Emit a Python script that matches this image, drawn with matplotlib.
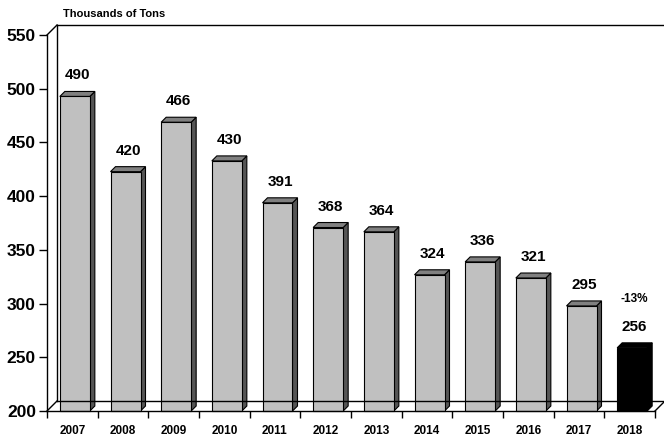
import numpy as np
import matplotlib.pyplot as plt
from matplotlib.patches import Polygon

# Data
years = ['2007', '2008', '2009', '2010', '2011', '2012',
         '2013', '2014', '2015', '2016', '2017', '2018']
tons = [490, 420, 466, 430, 391, 368, 364, 324, 336, 321, 295, 256]
change_label = '-13%'
y_ticks = [200, 250, 300, 350, 400, 450, 500, 550]

plt.rcParams['font.family'] = ['Liberation Sans', 'DejaVu Sans']

fig = plt.figure(figsize=(6.64, 4.38), dpi=100)
ax = fig.add_axes([47 / 664, 27 / 438, 608 / 664, 376 / 438])
ax.set_xlim(-0.5, len(years) - 0.5)
ax.set_ylim(200, 550)

# size of one pixel in data units
px = len(years) / 608
py = 350 / 376

# 3D frame: back wall and floor
d = 10
x0, x1 = -0.5, len(years) - 0.5
frame = dict(color='black', lw=1, clip_on=False)
ax.plot([x0 + d * px, x0 + d * px], [200 + d * py, 550 + d * py], **frame)
ax.plot([x0, x0 + d * px], [550, 550 + d * py], **frame)
ax.plot([x0 + d * px, x1 + 2], [550 + d * py, 550 + d * py], **frame)
ax.plot([x0, x0 + d * px], [200, 200 + d * py], **frame)
ax.plot([x0 + d * px, x1 + d * px], [200 + d * py, 200 + d * py], **frame)
ax.plot([x1, x1 + d * px], [200, 200 + d * py], **frame)

# bars (front face, side face, top face)
hw = 15 * px
shift = 2.5 * px
dep = 5
for i, v in enumerate(tons):
    last = i == len(tons) - 1
    front = 'black' if last else '#c0c0c0'
    side = 'black' if last else '#555555'
    top = 'black' if last else '#808080'
    xl = i + shift - hw
    xr = i + shift + hw
    yt = v + 3 * py
    ax.add_patch(Polygon([(xr, 200), (xr + dep * px, 200 + dep * py),
                          (xr + dep * px, yt + dep * py), (xr, yt)],
                         closed=True, fc=side, ec='black', lw=0.8, clip_on=False))
    ax.add_patch(Polygon([(xl, yt), (xr, yt), (xr + dep * px, yt + dep * py),
                          (xl + dep * px, yt + dep * py)],
                         closed=True, fc=top, ec='black', lw=0.8, clip_on=False))
    ax.add_patch(Polygon([(xl, 200), (xr, 200), (xr, yt), (xl, yt)],
                         closed=True, fc=front, ec='black', lw=0.8, clip_on=False))
    ax.text(i + shift + 2.5 * px, yt + dep * py + 9 * py, str(v),
            ha='center', va='bottom', fontsize=11, fontweight='bold')
    if last:
        ax.text(i + shift + 2.5 * px, yt + dep * py + 38 * py, change_label,
                ha='center', va='bottom', fontsize=8.5, fontweight='bold')

# axes
for s in ['top', 'right']:
    ax.spines[s].set_visible(False)
ax.spines['left'].set_linewidth(1)
ax.spines['bottom'].set_linewidth(1)
ax.set_yticks(y_ticks)
ax.set_yticklabels([str(t) for t in y_ticks], fontsize=12.5, fontweight='bold')
ax.tick_params(axis='y', length=6, width=1, pad=2)
ax.set_xticks(np.arange(len(years)))
ax.set_xticklabels(years, fontsize=8.5, fontweight='bold')
ax.tick_params(axis='x', length=0, pad=10)
ax.set_xticks(np.arange(len(years) + 1) - 0.5, minor=True)
ax.tick_params(axis='x', which='minor', length=5, width=1)

fig.text(63 / 664, 1 - 14 / 438, 'Thousands of Tons', ha='left', va='center',
         fontsize=8, fontweight='bold')

fig.savefig('out.png', dpi=100)
